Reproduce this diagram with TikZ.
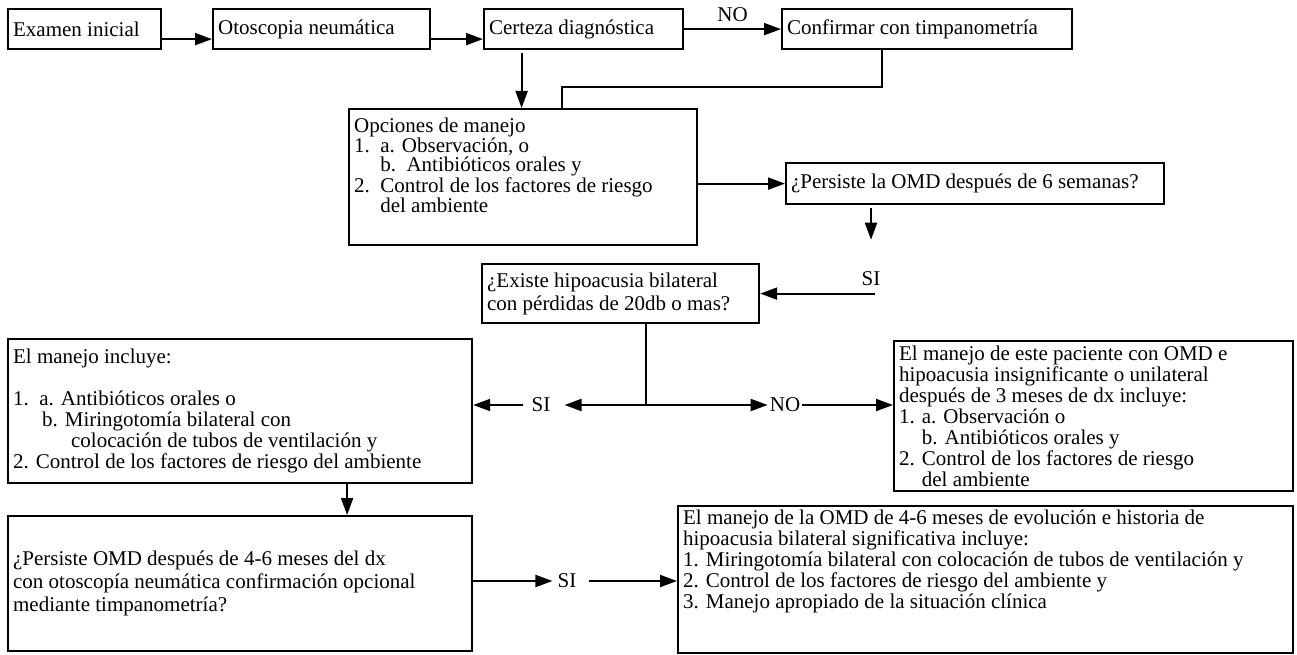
\documentclass[tikz,border=0pt]{standalone}
\usepackage{fontspec}
\setmainfont{Liberation Serif}
\usetikzlibrary{arrows.meta}

\begin{document}
\begin{tikzpicture}[x=1pt, y=-1pt,
  every node/.style={font=\fontsize{21}{21}\selectfont},
  box/.style={draw, line width=2.2pt, anchor=north west, align=flush left, inner xsep=5pt, inner ysep=0pt},
  lbl/.style={inner sep=0pt},
  arr/.style={line width=2pt, -{Triangle[length=17pt,width=12pt]}},
  line/.style={line width=2pt}]
  \useasboundingbox (0,0) rectangle (1297,655);

  % first row
  \node (examen) [box, text width=143pt, minimum height=40pt] at (7,8) {Examen inicial};
  \node (otosc) [box, text width=207pt, minimum height=40pt] at (212,8) {Otoscopia neumática};
  \node (certeza) [box, text width=189pt, minimum height=40pt] at (483,8) {Certeza diagnóstica};
  \node (confirm) [box, text width=280pt, minimum height=40pt] at (781,8) {Confirmar con timpanometría};

  \node (opciones) [box, inner ysep=9pt] at (348,108) {\parbox[t][118pt][t]{338pt}{%
    \baselineskip=19pt
    Opciones de manejo\\
    1.\ \ a. Observación, o\\
    \phantom{1.\ \ }b.\ \ Antibióticos orales y\\
    2.\ \ Control de los factores de riesgo\\
    \phantom{2.\ \ }del ambiente}};
  \node (persiste) [box, text width=368pt, minimum height=41pt] at (785,162) {¿Persiste la OMD después de 6 semanas?};
  \node (existe) [box, text width=267pt, minimum height=59pt] at (481,263) {¿Existe hipoacusia bilateral\\[2pt]con pérdidas de 20db o mas?};

  \node (lmanejo) [box, text width=454pt, minimum height=144pt] at (7,338) {%
    El manejo incluye:\\[21pt]
    1.\ \ a. Antibióticos orales o\\
    \hspace*{29pt}b. Miringotomía bilateral con\\
    \hspace*{58pt}colocación de tubos de ventilación y\\
    2. Control de los factores de riesgo del ambiente};
  \node (rmanejo) [box, text width=389pt, minimum height=150pt] at (893,340) {%
    El manejo de este paciente con OMD e\\
    hipoacusia insignificante o unilateral\\
    después de 3 meses de dx incluye:\\
    1. a. Observación o\\
    \phantom{1. }b. Antibióticos orales y\\
    2. Control de los factores de riesgo\\
    \phantom{2. }del ambiente};

  \node (persiste2) [box, text width=454pt, minimum height=135pt] at (7,515) {%
    ¿Persiste OMD después de 4-6 meses del dx\\[2pt]
    con otoscopía neumática confirmación opcional\\[2pt]
    mediante timpanometría?};
  \node (rbottom) [box, inner ysep=4pt] at (677,505) {\parbox[t][139pt][t]{605pt}{%
    El manejo de la OMD de 4-6 meses de evolución e historia de\\
    hipoacusia bilateral significativa incluye:\\
    1. Miringotomía bilateral con colocación de tubos de ventilación y\\
    2. Control de los factores de riesgo del ambiente y\\
    3. Manejo apropiado de la situación clínica}};

  % labels
  \node (si1) [lbl] at (871,279) {SI};
  \node (si2) [lbl] at (541,405) {SI};
  \node (no2) [lbl] at (785,405) {NO};
  \node (si3) [lbl] at (567,581) {SI};
  \coordinate (c1) at (562,87);
  \coordinate (j) at (646,405);

  % connectors
  \draw[arr] ([yshift=-10pt]examen.east) -- ([yshift=-10pt]otosc.west);
  \draw[arr] ([yshift=-10pt]otosc.east) -- ([yshift=-10pt]certeza.west);
  \draw[arr] (certeza.east) -- node[lbl, above=6pt] (no1) {NO} (confirm.west);
  \draw[arr] ([xshift=-62pt, yshift=-3pt]certeza.south) -- ([xshift=-62pt]certeza.south |- opciones.north);
  \draw[line] ([xshift=-45pt]confirm.south) |- (c1) -- (c1 |- opciones.north);
  \draw[arr] (opciones.east |- persiste.west) -- (persiste.west);
  \draw[arr] ([yshift=-3pt]persiste.south -| si1.north) -- ([yshift=32pt]si1.north);
  \draw[arr] ([xshift=-6pt]si1.east |- existe.east) -- (existe.east);
  \draw[line] (existe.south -| j) -- (j);
  \draw[arr] (j) -- ([xshift=14pt]si2.east);
  \draw[arr] ([xshift=-8pt]si2.west) -- (lmanejo.east |- si2);
  \draw[arr] (j) -- ([xshift=-2pt]no2.west);
  \draw[arr] ([xshift=2pt]no2.east) -- (rmanejo.west |- no2);
  \draw[arr] ([xshift=107pt]lmanejo.south) -- ([xshift=107pt]persiste2.north);
  \draw[arr] (persiste2.east |- si3) -- ([xshift=-5pt]si3.west);
  \draw[arr] ([xshift=12pt]si3.east) -- (rbottom.west |- si3);
\end{tikzpicture}
\end{document}
